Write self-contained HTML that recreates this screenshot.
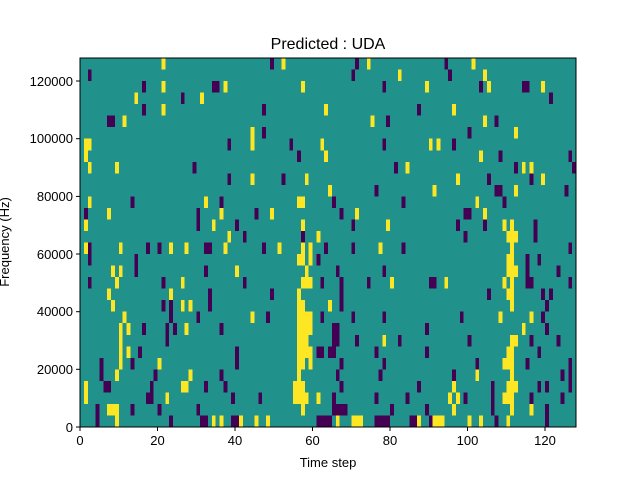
<!DOCTYPE html>
<html><head><meta charset="utf-8"><style>
html,body{margin:0;padding:0;background:#fff;}
svg text{font-family:"Liberation Sans","DejaVu Sans",sans-serif;fill:#000;}
.p{fill:#440154}.y{fill:#fde725}
</style></head><body>
<svg width="640" height="480" viewBox="0 0 640 480" xmlns="http://www.w3.org/2000/svg">
<rect width="640" height="480" fill="#fff"/>
<text x="328" y="49" font-size="16" text-anchor="middle">Predicted : UDA</text>
<svg x="80" y="58" width="496" height="369" viewBox="0 0 128 32" preserveAspectRatio="none" shape-rendering="crispEdges">
<rect width="128" height="32" fill="#21918c"/>
<!-- top-left -->
<rect class="y" x="21" y="0" width="1" height="1"/><rect class="p" x="49" y="0" width="1" height="1"/><rect class="y" x="52" y="0" width="1" height="1"/>
<rect class="p" x="2" y="1" width="1" height="1"/>
<rect class="p" x="16" y="2" width="1" height="1"/><rect class="y" x="21" y="2" width="1" height="1"/><rect class="p" x="34" y="2" width="2" height="1"/><rect class="y" x="37" y="2" width="1" height="1"/><rect class="y" x="57" y="2" width="1" height="1"/>
<rect class="y" x="14" y="3" width="1" height="1"/><rect class="p" x="26" y="3" width="1" height="1"/><rect class="y" x="31" y="3" width="1" height="1"/>
<rect class="p" x="16" y="4" width="1" height="1"/><rect class="y" x="21" y="4" width="1" height="1"/><rect class="p" x="47" y="4" width="1" height="1"/><rect class="y" x="63" y="4" width="1" height="1"/>
<rect class="p" x="7" y="5" width="2" height="1"/><rect class="y" x="11" y="5" width="1" height="1"/>
<rect class="y" x="44" y="6" width="1" height="2"/><rect class="p" x="47" y="6" width="1" height="1"/>
<rect class="y" x="1" y="7" width="2" height="1"/><rect class="p" x="38" y="7" width="1" height="1"/><rect class="p" x="54" y="7" width="1" height="1"/><rect class="y" x="62" y="7" width="1" height="1"/>
<rect class="y" x="1" y="8" width="1" height="1"/><rect class="p" x="56" y="8" width="1" height="1"/><rect class="y" x="63" y="8" width="1" height="1"/>
<rect class="y" x="2" y="9" width="1" height="1"/><rect class="y" x="9" y="9" width="1" height="1"/><rect class="p" x="29" y="9" width="1" height="1"/>
<rect class="p" x="38" y="10" width="1" height="1"/><rect class="y" x="44" y="10" width="1" height="1"/><rect class="p" x="52" y="10" width="1" height="1"/><rect class="y" x="58" y="10" width="1" height="1"/>
<rect class="y" x="2" y="12" width="1" height="1"/><rect class="p" x="13" y="12" width="1" height="1"/><rect class="y" x="32" y="12" width="1" height="1"/><rect class="p" x="36" y="12" width="1" height="1"/><rect class="y" x="56" y="12" width="2" height="1"/>
<rect class="p" x="1" y="13" width="1" height="1"/><rect class="y" x="7" y="13" width="1" height="1"/><rect class="p" x="30" y="13" width="1" height="2"/><rect class="y" x="36" y="13" width="1" height="1"/><rect class="p" x="45" y="13" width="1" height="1"/><rect class="y" x="49" y="13" width="1" height="1"/>
<rect class="y" x="1" y="14" width="1" height="1"/><rect class="y" x="34" y="14" width="1" height="1"/><rect class="p" x="40" y="14" width="1" height="1"/><rect class="y" x="57" y="14" width="1" height="1"/>
<rect class="y" x="38" y="15" width="1" height="1"/><rect class="p" x="42" y="15" width="1" height="1"/><rect class="p" x="57" y="15" width="1" height="1"/><rect class="y" x="61" y="15" width="1" height="1"/>
<!-- top-right -->
<rect class="p" x="71" y="0" width="1" height="1"/><rect class="y" x="74" y="0" width="1" height="1"/><rect class="p" x="94" y="0" width="1" height="1"/><rect class="y" x="101" y="0" width="1" height="1"/>
<rect class="p" x="70" y="1" width="1" height="1"/><rect class="y" x="82" y="1" width="1" height="1"/><rect class="p" x="95" y="1" width="1" height="1"/><rect class="y" x="104" y="1" width="1" height="1"/>
<rect class="p" x="78" y="2" width="1" height="1"/><rect class="y" x="89" y="2" width="1" height="1"/><rect class="p" x="103" y="2" width="1" height="1"/><rect class="y" x="105" y="2" width="1" height="1"/><rect class="p" x="114" y="2" width="2" height="1"/><rect class="y" x="119" y="2" width="1" height="1"/>
<rect class="p" x="121" y="3" width="1" height="1"/>
<rect class="p" x="87" y="4" width="1" height="1"/><rect class="y" x="96" y="4" width="1" height="1"/>
<rect class="y" x="75" y="5" width="1" height="1"/><rect class="p" x="79" y="5" width="1" height="1"/><rect class="y" x="104" y="5" width="1" height="1"/><rect class="p" x="107" y="5" width="1" height="1"/>
<rect class="p" x="100" y="6" width="1" height="1"/><rect class="y" x="112" y="6" width="1" height="1"/>
<rect class="p" x="78" y="7" width="1" height="1"/><rect class="y" x="90" y="7" width="1" height="1"/><rect class="y" x="92" y="7" width="1" height="1"/><rect class="p" x="96" y="7" width="1" height="1"/>
<rect class="y" x="103" y="8" width="1" height="1"/><rect class="p" x="108" y="8" width="1" height="1"/><rect class="p" x="126" y="8" width="1" height="1"/>
<rect class="p" x="81" y="9" width="1" height="1"/><rect class="y" x="84" y="9" width="1" height="1"/><rect class="p" x="112" y="9" width="1" height="1"/><rect class="y" x="114" y="9" width="1" height="1"/><rect class="y" x="116" y="9" width="1" height="1"/><rect class="p" x="127" y="9" width="1" height="1"/>
<rect class="y" x="97" y="10" width="1" height="1"/><rect class="p" x="105" y="10" width="1" height="1"/><rect class="p" x="116" y="10" width="1" height="1"/><rect class="y" x="119" y="10" width="1" height="1"/>
<rect class="y" x="64" y="11" width="1" height="1"/><rect class="p" x="76" y="11" width="1" height="1"/><rect class="y" x="91" y="11" width="1" height="1"/><rect class="p" x="107" y="11" width="2" height="1"/><rect class="y" x="112" y="11" width="1" height="1"/><rect class="p" x="125" y="11" width="1" height="1"/>
<rect class="p" x="65" y="12" width="1" height="1"/><rect class="p" x="83" y="12" width="1" height="1"/><rect class="y" x="102" y="12" width="1" height="1"/><rect class="p" x="109" y="12" width="1" height="1"/>
<rect class="p" x="67" y="13" width="1" height="1"/><rect class="y" x="71" y="13" width="1" height="1"/><rect class="p" x="99" y="13" width="2" height="1"/><rect class="y" x="104" y="13" width="1" height="1"/>
<rect class="p" x="70" y="14" width="1" height="1"/><rect class="y" x="79" y="14" width="1" height="1"/><rect class="p" x="97" y="14" width="1" height="1"/><rect class="p" x="104" y="14" width="1" height="1"/><rect class="y" x="109" y="14" width="1" height="1"/><rect class="y" x="111" y="14" width="1" height="2"/><rect class="p" x="117" y="14" width="1" height="2"/>
<rect class="p" x="99" y="15" width="1" height="1"/><rect class="y" x="110" y="15" width="1" height="1"/><rect class="y" x="112" y="15" width="1" height="1"/>
<!-- bottom-left -->
<rect class="y" x="1" y="16" width="1" height="1"/><rect class="y" x="10" y="16" width="1" height="1"/><rect class="p" x="17" y="16" width="1" height="1"/><rect class="p" x="20" y="16" width="1" height="1"/><rect class="y" x="23" y="16" width="1" height="1"/><rect class="y" x="27" y="16" width="1" height="1"/><rect class="p" x="32" y="16" width="2" height="1"/><rect class="y" x="37" y="16" width="1" height="1"/><rect class="p" x="47" y="16" width="1" height="1"/><rect class="y" x="51" y="16" width="1" height="1"/><rect class="y" x="57" y="16" width="1" height="1"/>
<rect class="p" x="2" y="16" width="1" height="2"/><rect class="y" x="59" y="16" width="1" height="2"/><rect class="p" x="63" y="16" width="1" height="1"/>
<rect class="p" x="14" y="17" width="1" height="2"/><rect class="y" x="56" y="17" width="2" height="1"/><rect class="p" x="61" y="17" width="1" height="1"/>
<rect class="y" x="8" y="18" width="1" height="1"/><rect class="y" x="10" y="18" width="1" height="1"/><rect class="p" x="32" y="18" width="1" height="1"/><rect class="y" x="40" y="18" width="1" height="1"/><rect class="y" x="58" y="18" width="1" height="1"/>
<rect class="p" x="2" y="19" width="1" height="1"/><rect class="y" x="9" y="19" width="1" height="1"/><rect class="p" x="21" y="19" width="1" height="1"/><rect class="y" x="26" y="19" width="1" height="1"/><rect class="p" x="42" y="19" width="1" height="1"/><rect class="y" x="57" y="19" width="3" height="1"/><rect class="p" x="62" y="19" width="1" height="1"/>
<rect class="y" x="7" y="20" width="1" height="1"/><rect class="y" x="23" y="20" width="1" height="1"/><rect class="p" x="33" y="20" width="1" height="2"/><rect class="p" x="49" y="20" width="1" height="1"/><rect class="y" x="56" y="20" width="1" height="1"/>
<rect class="y" x="8" y="21" width="1" height="1"/><rect class="p" x="21" y="21" width="1" height="1"/><rect class="p" x="23" y="21" width="1" height="2"/><rect class="y" x="26" y="21" width="1" height="1"/><rect class="y" x="28" y="21" width="1" height="1"/><rect class="y" x="56" y="21" width="2" height="1"/>
<rect class="y" x="11" y="22" width="1" height="1"/><rect class="p" x="30" y="22" width="1" height="1"/><rect class="y" x="44" y="22" width="1" height="1"/><rect class="p" x="48" y="22" width="1" height="1"/><rect class="y" x="56" y="22" width="4" height="1"/><rect class="p" x="62" y="22" width="1" height="1"/>
<rect class="y" x="10" y="23" width="1" height="4"/><rect class="y" x="12" y="23" width="1" height="1"/><rect class="p" x="16" y="23" width="1" height="1"/><rect class="p" x="22" y="23" width="1" height="2"/><rect class="p" x="24" y="23" width="1" height="1"/><rect class="y" x="27" y="23" width="1" height="1"/><rect class="p" x="36" y="23" width="1" height="1"/><rect class="y" x="56" y="23" width="4" height="1"/>
<rect class="y" x="56" y="24" width="3" height="1"/>
<rect class="y" x="12" y="25" width="1" height="1"/><rect class="p" x="15" y="25" width="1" height="1"/><rect class="p" x="40" y="25" width="1" height="2"/><rect class="y" x="56" y="25" width="4" height="1"/><rect class="p" x="61" y="25" width="2" height="1"/>
<rect class="p" x="5" y="26" width="1" height="2"/><rect class="p" x="13" y="26" width="1" height="1"/><rect class="y" x="20" y="26" width="1" height="1"/><rect class="y" x="56" y="26" width="2" height="1"/><rect class="y" x="59" y="26" width="1" height="1"/>
<rect class="y" x="9" y="27" width="1" height="1"/><rect class="p" x="19" y="27" width="1" height="1"/><rect class="y" x="28" y="27" width="1" height="1"/><rect class="p" x="36" y="27" width="1" height="1"/><rect class="y" x="56" y="27" width="1" height="1"/>
<rect class="y" x="1" y="28" width="1" height="2"/><rect class="p" x="6" y="28" width="2" height="1"/><rect class="p" x="18" y="28" width="1" height="1"/><rect class="y" x="26" y="28" width="2" height="1"/><rect class="p" x="32" y="28" width="1" height="1"/><rect class="p" x="37" y="28" width="1" height="1"/><rect class="y" x="55" y="28" width="3" height="1"/>
<rect class="p" x="17" y="29" width="2" height="1"/><rect class="y" x="22" y="29" width="1" height="1"/><rect class="p" x="39" y="29" width="1" height="1"/><rect class="p" x="46" y="29" width="1" height="1"/><rect class="y" x="55" y="29" width="4" height="1"/><rect class="y" x="61" y="29" width="1" height="1"/>
<rect class="p" x="4" y="30" width="1" height="2"/><rect class="y" x="7" y="30" width="3" height="1"/><rect class="p" x="13" y="30" width="1" height="1"/><rect class="p" x="20" y="30" width="1" height="1"/><rect class="p" x="30" y="30" width="1" height="1"/><rect class="y" x="57" y="30" width="1" height="1"/>
<rect class="y" x="9" y="31" width="1" height="1"/><rect class="p" x="23" y="31" width="1" height="1"/><rect class="p" x="31" y="31" width="2" height="1"/><rect class="y" x="34" y="31" width="1" height="1"/><rect class="y" x="36" y="31" width="1" height="1"/><rect class="p" x="39" y="31" width="2" height="1"/><rect class="y" x="41" y="31" width="1" height="1"/><rect class="y" x="45" y="31" width="1" height="1"/><rect class="y" x="48" y="31" width="1" height="1"/><rect class="p" x="61" y="31" width="3" height="1"/>
<!-- bottom-right -->
<rect class="p" x="70" y="16" width="1" height="1"/><rect class="y" x="77" y="16" width="1" height="1"/><rect class="p" x="83" y="16" width="1" height="1"/><rect class="y" x="111" y="16" width="1" height="1"/><rect class="p" x="126" y="16" width="1" height="1"/>
<rect class="y" x="110" y="17" width="2" height="2"/><rect class="p" x="115" y="17" width="1" height="3"/><rect class="p" x="118" y="17" width="1" height="1"/>
<rect class="p" x="66" y="18" width="1" height="1"/><rect class="p" x="78" y="18" width="1" height="1"/><rect class="y" x="112" y="18" width="1" height="1"/><rect class="p" x="123" y="18" width="1" height="1"/>
<rect class="p" x="67" y="19" width="1" height="3"/><rect class="p" x="74" y="19" width="1" height="1"/><rect class="y" x="80" y="19" width="1" height="1"/><rect class="p" x="90" y="19" width="2" height="1"/><rect class="y" x="94" y="19" width="1" height="1"/><rect class="y" x="109" y="19" width="1" height="1"/><rect class="y" x="111" y="19" width="1" height="1"/><rect class="p" x="116" y="19" width="1" height="1"/><rect class="p" x="126" y="19" width="1" height="1"/>
<rect class="p" x="105" y="20" width="1" height="1"/><rect class="y" x="110" y="20" width="2" height="1"/><rect class="y" x="111" y="21" width="1" height="1"/><rect class="p" x="119" y="20" width="1" height="1"/><rect class="p" x="121" y="20" width="1" height="1"/>
<rect class="y" x="64" y="21" width="1" height="1"/><rect class="p" x="120" y="21" width="1" height="1"/>
<rect class="p" x="70" y="22" width="1" height="1"/><rect class="p" x="78" y="22" width="1" height="1"/><rect class="p" x="98" y="22" width="1" height="1"/><rect class="y" x="108" y="22" width="1" height="1"/><rect class="y" x="116" y="22" width="1" height="1"/><rect class="p" x="119" y="22" width="1" height="1"/>
<rect class="p" x="65" y="23" width="2" height="2"/><rect class="p" x="89" y="23" width="1" height="1"/><rect class="y" x="114" y="23" width="1" height="1"/><rect class="p" x="120" y="23" width="1" height="1"/>
<rect class="p" x="71" y="24" width="1" height="1"/><rect class="y" x="78" y="24" width="1" height="1"/><rect class="p" x="82" y="24" width="1" height="1"/><rect class="p" x="100" y="24" width="1" height="1"/><rect class="y" x="111" y="24" width="2" height="1"/><rect class="p" x="116" y="24" width="1" height="1"/><rect class="p" x="123" y="24" width="1" height="1"/>
<rect class="p" x="64" y="25" width="2" height="1"/><rect class="p" x="76" y="25" width="1" height="1"/><rect class="p" x="89" y="25" width="1" height="1"/><rect class="y" x="110" y="25" width="2" height="1"/><rect class="p" x="118" y="25" width="1" height="1"/>
<rect class="p" x="67" y="26" width="1" height="1"/><rect class="p" x="78" y="26" width="1" height="1"/><rect class="p" x="102" y="26" width="1" height="1"/><rect class="y" x="109" y="26" width="3" height="1"/><rect class="p" x="115" y="26" width="1" height="1"/><rect class="p" x="126" y="26" width="1" height="3"/>
<rect class="p" x="66" y="27" width="1" height="1"/><rect class="p" x="77" y="27" width="1" height="1"/><rect class="p" x="96" y="27" width="1" height="1"/><rect class="y" x="102" y="27" width="1" height="1"/><rect class="y" x="111" y="27" width="1" height="1"/><rect class="p" x="124" y="27" width="1" height="1"/>
<rect class="p" x="67" y="28" width="1" height="1"/><rect class="p" x="87" y="28" width="1" height="1"/><rect class="y" x="96" y="28" width="1" height="1"/><rect class="p" x="106" y="28" width="1" height="3"/><rect class="y" x="110" y="28" width="3" height="1"/><rect class="p" x="118" y="28" width="1" height="1"/><rect class="p" x="120" y="28" width="1" height="1"/>
<rect class="p" x="65" y="29" width="1" height="1"/><rect class="p" x="76" y="29" width="1" height="1"/><rect class="p" x="84" y="29" width="1" height="1"/><rect class="y" x="95" y="29" width="1" height="1"/><rect class="y" x="97" y="29" width="1" height="1"/><rect class="p" x="99" y="29" width="1" height="1"/><rect class="y" x="109" y="29" width="3" height="1"/><rect class="p" x="116" y="29" width="1" height="1"/><rect class="p" x="124" y="29" width="1" height="1"/>
<rect class="p" x="65" y="30" width="4" height="1"/><rect class="p" x="80" y="30" width="1" height="1"/><rect class="p" x="89" y="30" width="1" height="1"/><rect class="y" x="96" y="30" width="1" height="1"/><rect class="y" x="111" y="30" width="1" height="1"/><rect class="y" x="116" y="30" width="1" height="1"/><rect class="p" x="120" y="30" width="1" height="2"/>
<rect class="p" x="64" y="31" width="1" height="1"/><rect class="y" x="66" y="31" width="1" height="1"/><rect class="y" x="70" y="31" width="3" height="1"/><rect class="p" x="76" y="31" width="4" height="1"/><rect class="p" x="85" y="31" width="2" height="1"/><rect class="y" x="87" y="31" width="1" height="1"/><rect class="p" x="90" y="31" width="1" height="1"/><rect class="y" x="91" y="31" width="3" height="1"/><rect class="y" x="100" y="31" width="1" height="1"/><rect class="y" x="103" y="31" width="1" height="1"/><rect class="p" x="107" y="31" width="1" height="1"/><rect class="y" x="110" y="31" width="1" height="1"/>
</svg>
<rect x="80" y="58" width="496" height="369" fill="none" stroke="#000" stroke-width="1"/>
<g stroke="#000" stroke-width="1">
<line x1="80" y1="427" x2="80" y2="431"/><line x1="157.5" y1="427" x2="157.5" y2="431"/><line x1="235" y1="427" x2="235" y2="431"/><line x1="312.5" y1="427" x2="312.5" y2="431"/><line x1="390" y1="427" x2="390" y2="431"/><line x1="467.5" y1="427" x2="467.5" y2="431"/><line x1="545" y1="427" x2="545" y2="431"/>
<line x1="76" y1="427" x2="80" y2="427"/><line x1="76" y1="369.3" x2="80" y2="369.3"/><line x1="76" y1="311.7" x2="80" y2="311.7"/><line x1="76" y1="254" x2="80" y2="254"/><line x1="76" y1="196.4" x2="80" y2="196.4"/><line x1="76" y1="138.7" x2="80" y2="138.7"/><line x1="76" y1="81" x2="80" y2="81"/>
</g>
<g font-size="13" text-anchor="middle">
<text x="80" y="445">0</text><text x="157.5" y="445">20</text><text x="235" y="445">40</text><text x="312.5" y="445">60</text><text x="390" y="445">80</text><text x="467.5" y="445">100</text><text x="545" y="445">120</text>
</g>
<g font-size="13" text-anchor="end">
<text x="73" y="432">0</text><text x="73" y="374">20000</text><text x="73" y="316">40000</text><text x="73" y="259">60000</text><text x="73" y="201">80000</text><text x="73" y="143">100000</text><text x="73" y="86">120000</text>
</g>
<text x="328" y="467" font-size="13" text-anchor="middle">Time step</text>
<text transform="translate(9,242) rotate(-90)" font-size="13" text-anchor="middle">Frequency (Hz)</text>
</svg>
</body></html>
